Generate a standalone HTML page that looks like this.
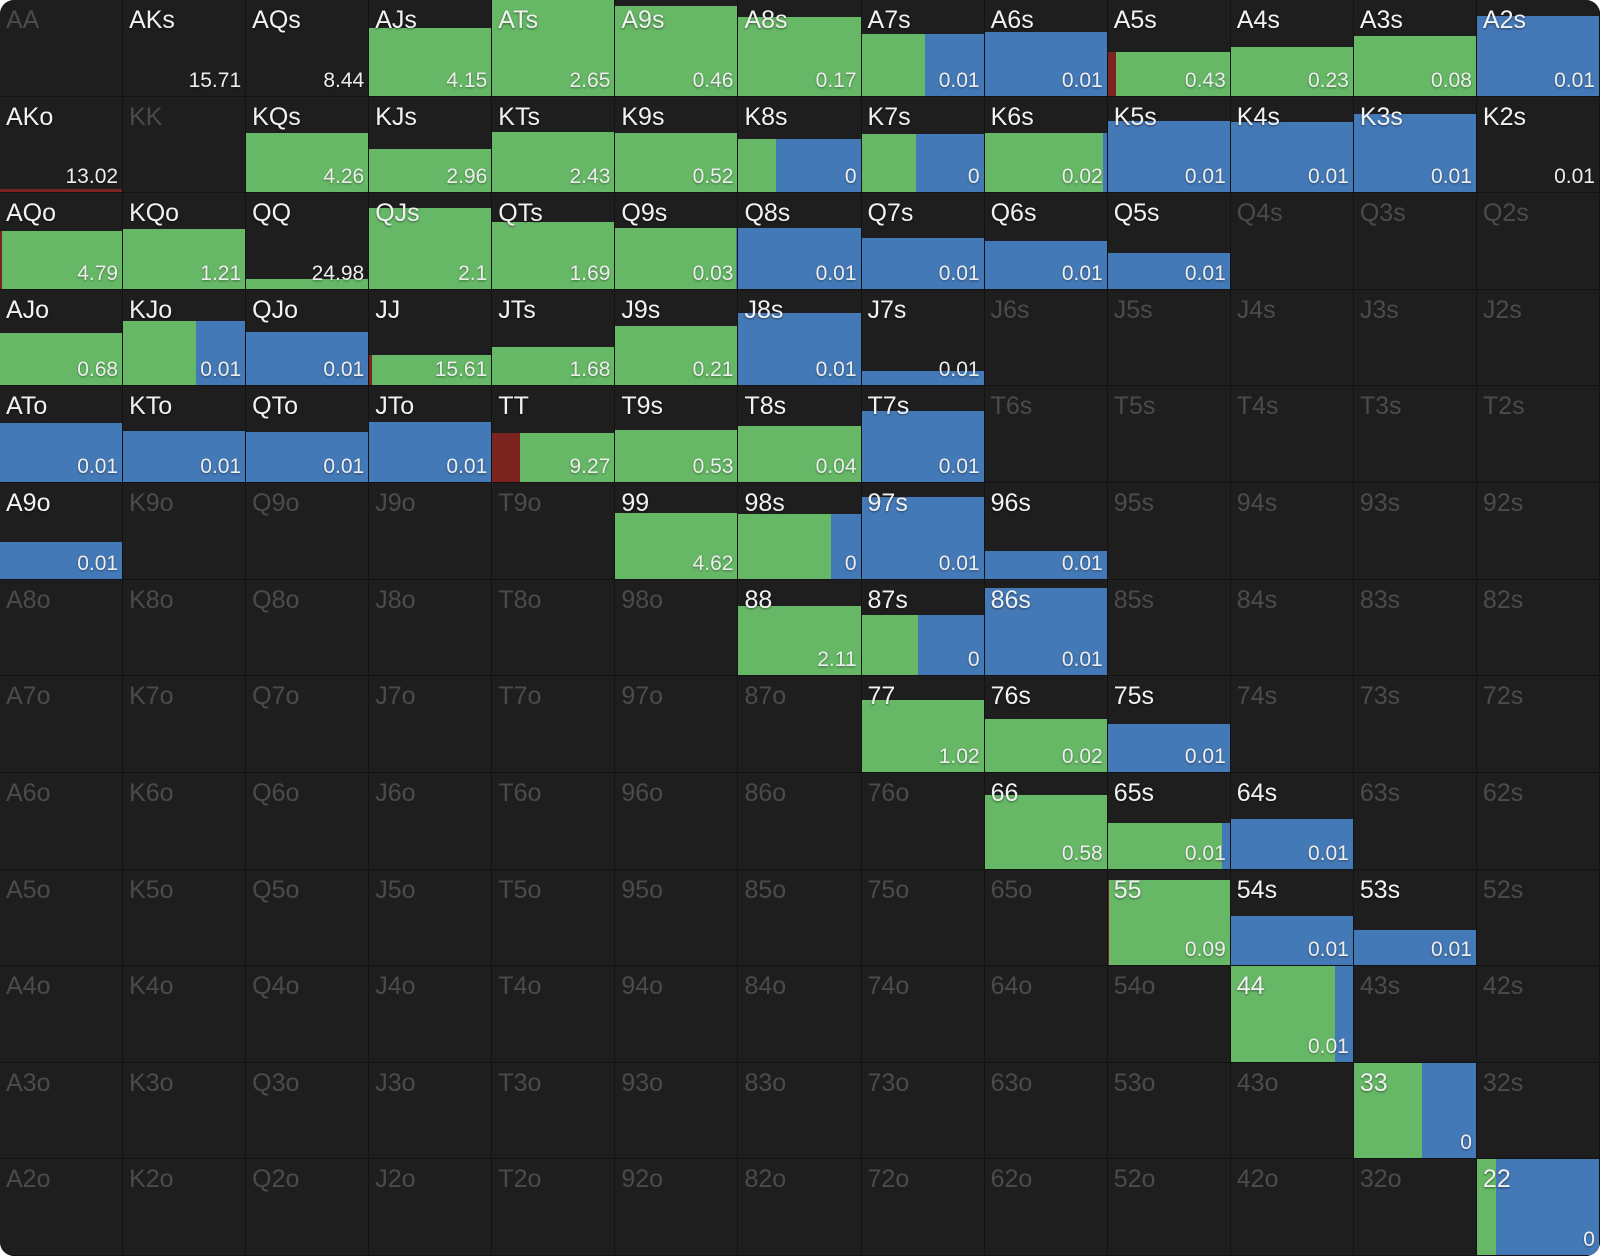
<!DOCTYPE html>
<html><head><meta charset="utf-8"><style>
body{margin:0;background:#fff;}
#g{width:1600px;height:1256px;display:grid;grid-template-columns:repeat(13,1fr);grid-template-rows:repeat(13,1fr);border-radius:14px;overflow:hidden;background:#1e1e1e;font-family:"Liberation Sans",sans-serif;}
.c{position:relative;border-right:1px solid #131313;border-bottom:1px solid #131313;overflow:hidden;background:#1e1e1e;}
.l{position:absolute;left:6px;top:6px;font-size:25px;color:#f2f2f2;z-index:2;text-shadow:0 1px 2px rgba(0,0,0,.5);}
.d{color:#4b4b4b;text-shadow:none;}
.v{position:absolute;right:4px;bottom:3px;font-size:21px;color:#eee;z-index:2;text-shadow:0 1px 2px rgba(0,0,0,.4);}
.f{position:absolute;left:0;right:0;bottom:0;display:flex;}
.r{background:#7b241f;}.g{background:#66b866;}.u{background:#4479b7;}
</style></head><body><div id="g">
<!-- row A -->
<div class="c"><span class="l d">AA</span></div>
<div class="c"><span class="l">AKs</span><span class="v">15.71</span></div>
<div class="c"><span class="l">AQs</span><span class="v">8.44</span></div>
<div class="c"><span class="l">AJs</span><div class="f" style="height:71%"><span class="g" style="flex:1"></span></div><span class="v">4.15</span></div>
<div class="c"><span class="l">ATs</span><div class="f" style="height:100%"><span class="g" style="flex:1"></span></div><span class="v">2.65</span></div>
<div class="c"><span class="l">A9s</span><div class="f" style="height:94%"><span class="g" style="flex:1"></span></div><span class="v">0.46</span></div>
<div class="c"><span class="l">A8s</span><div class="f" style="height:82%"><span class="g" style="flex:1"></span></div><span class="v">0.17</span></div>
<div class="c"><span class="l">A7s</span><div class="f" style="height:64%"><span class="g" style="flex:52"></span><span class="u" style="flex:48"></span></div><span class="v">0.01</span></div>
<div class="c"><span class="l">A6s</span><div class="f" style="height:67%"><span class="u" style="flex:1"></span></div><span class="v">0.01</span></div>
<div class="c"><span class="l">A5s</span><div class="f" style="height:46%"><span class="r" style="flex:7"></span><span class="g" style="flex:93"></span></div><span class="v">0.43</span></div>
<div class="c"><span class="l">A4s</span><div class="f" style="height:51%"><span class="g" style="flex:1"></span></div><span class="v">0.23</span></div>
<div class="c"><span class="l">A3s</span><div class="f" style="height:62%"><span class="g" style="flex:1"></span></div><span class="v">0.08</span></div>
<div class="c"><span class="l">A2s</span><div class="f" style="height:83%"><span class="u" style="flex:1"></span></div><span class="v">0.01</span></div>
<!-- row K -->
<div class="c"><span class="l">AKo</span><div class="f" style="height:3%"><span class="r" style="flex:1"></span></div><span class="v">13.02</span></div>
<div class="c"><span class="l d">KK</span></div>
<div class="c"><span class="l">KQs</span><div class="f" style="height:62%"><span class="g" style="flex:1"></span></div><span class="v">4.26</span></div>
<div class="c"><span class="l">KJs</span><div class="f" style="height:45%"><span class="g" style="flex:1"></span></div><span class="v">2.96</span></div>
<div class="c"><span class="l">KTs</span><div class="f" style="height:63%"><span class="g" style="flex:1"></span></div><span class="v">2.43</span></div>
<div class="c"><span class="l">K9s</span><div class="f" style="height:62%"><span class="g" style="flex:1"></span></div><span class="v">0.52</span></div>
<div class="c"><span class="l">K8s</span><div class="f" style="height:56%"><span class="g" style="flex:31"></span><span class="u" style="flex:69"></span></div><span class="v">0</span></div>
<div class="c"><span class="l">K7s</span><div class="f" style="height:61%"><span class="g" style="flex:45"></span><span class="u" style="flex:55"></span></div><span class="v">0</span></div>
<div class="c"><span class="l">K6s</span><div class="f" style="height:62%"><span class="g" style="flex:97"></span><span class="u" style="flex:3"></span></div><span class="v">0.02</span></div>
<div class="c"><span class="l">K5s</span><div class="f" style="height:74%"><span class="u" style="flex:1"></span></div><span class="v">0.01</span></div>
<div class="c"><span class="l">K4s</span><div class="f" style="height:73%"><span class="u" style="flex:1"></span></div><span class="v">0.01</span></div>
<div class="c"><span class="l">K3s</span><div class="f" style="height:82%"><span class="u" style="flex:1"></span></div><span class="v">0.01</span></div>
<div class="c"><span class="l">K2s</span><span class="v">0.01</span></div>
<!-- row Q -->
<div class="c"><span class="l">AQo</span><div class="f" style="height:61%"><span class="r" style="flex:2"></span><span class="g" style="flex:98"></span></div><span class="v">4.79</span></div>
<div class="c"><span class="l">KQo</span><div class="f" style="height:63%"><span class="g" style="flex:1"></span></div><span class="v">1.21</span></div>
<div class="c"><span class="l">QQ</span><div class="f" style="height:10%"><span class="g" style="flex:1"></span></div><span class="v">24.98</span></div>
<div class="c"><span class="l">QJs</span><div class="f" style="height:85%"><span class="g" style="flex:1"></span></div><span class="v">2.1</span></div>
<div class="c"><span class="l">QTs</span><div class="f" style="height:70%"><span class="g" style="flex:1"></span></div><span class="v">1.69</span></div>
<div class="c"><span class="l">Q9s</span><div class="f" style="height:64%"><span class="g" style="flex:99"></span><span class="u" style="flex:1"></span></div><span class="v">0.03</span></div>
<div class="c"><span class="l">Q8s</span><div class="f" style="height:64%"><span class="u" style="flex:1"></span></div><span class="v">0.01</span></div>
<div class="c"><span class="l">Q7s</span><div class="f" style="height:53%"><span class="u" style="flex:1"></span></div><span class="v">0.01</span></div>
<div class="c"><span class="l">Q6s</span><div class="f" style="height:50%"><span class="u" style="flex:1"></span></div><span class="v">0.01</span></div>
<div class="c"><span class="l">Q5s</span><div class="f" style="height:38%"><span class="u" style="flex:1"></span></div><span class="v">0.01</span></div>
<div class="c"><span class="l d">Q4s</span></div>
<div class="c"><span class="l d">Q3s</span></div>
<div class="c"><span class="l d">Q2s</span></div>
<!-- row J -->
<div class="c"><span class="l">AJo</span><div class="f" style="height:55%"><span class="g" style="flex:1"></span></div><span class="v">0.68</span></div>
<div class="c"><span class="l">KJo</span><div class="f" style="height:67%"><span class="g" style="flex:60"></span><span class="u" style="flex:40"></span></div><span class="v">0.01</span></div>
<div class="c"><span class="l">QJo</span><div class="f" style="height:56%"><span class="u" style="flex:1"></span></div><span class="v">0.01</span></div>
<div class="c"><span class="l">JJ</span><div class="f" style="height:32%"><span class="r" style="flex:2"></span><span class="g" style="flex:98"></span></div><span class="v">15.61</span></div>
<div class="c"><span class="l">JTs</span><div class="f" style="height:40%"><span class="g" style="flex:1"></span></div><span class="v">1.68</span></div>
<div class="c"><span class="l">J9s</span><div class="f" style="height:62%"><span class="g" style="flex:1"></span></div><span class="v">0.21</span></div>
<div class="c"><span class="l">J8s</span><div class="f" style="height:76%"><span class="u" style="flex:1"></span></div><span class="v">0.01</span></div>
<div class="c"><span class="l">J7s</span><div class="f" style="height:15%"><span class="u" style="flex:1"></span></div><span class="v">0.01</span></div>
<div class="c"><span class="l d">J6s</span></div>
<div class="c"><span class="l d">J5s</span></div>
<div class="c"><span class="l d">J4s</span></div>
<div class="c"><span class="l d">J3s</span></div>
<div class="c"><span class="l d">J2s</span></div>
<!-- row T -->
<div class="c"><span class="l">ATo</span><div class="f" style="height:62%"><span class="u" style="flex:1"></span></div><span class="v">0.01</span></div>
<div class="c"><span class="l">KTo</span><div class="f" style="height:53%"><span class="u" style="flex:1"></span></div><span class="v">0.01</span></div>
<div class="c"><span class="l">QTo</span><div class="f" style="height:52%"><span class="u" style="flex:1"></span></div><span class="v">0.01</span></div>
<div class="c"><span class="l">JTo</span><div class="f" style="height:63%"><span class="u" style="flex:1"></span></div><span class="v">0.01</span></div>
<div class="c"><span class="l">TT</span><div class="f" style="height:51%"><span class="r" style="flex:23"></span><span class="g" style="flex:77"></span></div><span class="v">9.27</span></div>
<div class="c"><span class="l">T9s</span><div class="f" style="height:54%"><span class="g" style="flex:1"></span></div><span class="v">0.53</span></div>
<div class="c"><span class="l">T8s</span><div class="f" style="height:59%"><span class="g" style="flex:1"></span></div><span class="v">0.04</span></div>
<div class="c"><span class="l">T7s</span><div class="f" style="height:74%"><span class="u" style="flex:1"></span></div><span class="v">0.01</span></div>
<div class="c"><span class="l d">T6s</span></div>
<div class="c"><span class="l d">T5s</span></div>
<div class="c"><span class="l d">T4s</span></div>
<div class="c"><span class="l d">T3s</span></div>
<div class="c"><span class="l d">T2s</span></div>
<!-- row 9 -->
<div class="c"><span class="l">A9o</span><div class="f" style="height:38%"><span class="u" style="flex:1"></span></div><span class="v">0.01</span></div>
<div class="c"><span class="l d">K9o</span></div>
<div class="c"><span class="l d">Q9o</span></div>
<div class="c"><span class="l d">J9o</span></div>
<div class="c"><span class="l d">T9o</span></div>
<div class="c"><span class="l">99</span><div class="f" style="height:69%"><span class="g" style="flex:1"></span></div><span class="v">4.62</span></div>
<div class="c"><span class="l">98s</span><div class="f" style="height:68%"><span class="g" style="flex:76"></span><span class="u" style="flex:24"></span></div><span class="v">0</span></div>
<div class="c"><span class="l">97s</span><div class="f" style="height:85%"><span class="u" style="flex:1"></span></div><span class="v">0.01</span></div>
<div class="c"><span class="l">96s</span><div class="f" style="height:29%"><span class="u" style="flex:1"></span></div><span class="v">0.01</span></div>
<div class="c"><span class="l d">95s</span></div>
<div class="c"><span class="l d">94s</span></div>
<div class="c"><span class="l d">93s</span></div>
<div class="c"><span class="l d">92s</span></div>
<!-- row 8 -->
<div class="c"><span class="l d">A8o</span></div>
<div class="c"><span class="l d">K8o</span></div>
<div class="c"><span class="l d">Q8o</span></div>
<div class="c"><span class="l d">J8o</span></div>
<div class="c"><span class="l d">T8o</span></div>
<div class="c"><span class="l d">98o</span></div>
<div class="c"><span class="l">88</span><div class="f" style="height:73%"><span class="g" style="flex:1"></span></div><span class="v">2.11</span></div>
<div class="c"><span class="l">87s</span><div class="f" style="height:63%"><span class="g" style="flex:46"></span><span class="u" style="flex:54"></span></div><span class="v">0</span></div>
<div class="c"><span class="l">86s</span><div class="f" style="height:91%"><span class="u" style="flex:1"></span></div><span class="v">0.01</span></div>
<div class="c"><span class="l d">85s</span></div>
<div class="c"><span class="l d">84s</span></div>
<div class="c"><span class="l d">83s</span></div>
<div class="c"><span class="l d">82s</span></div>
<!-- row 7 -->
<div class="c"><span class="l d">A7o</span></div>
<div class="c"><span class="l d">K7o</span></div>
<div class="c"><span class="l d">Q7o</span></div>
<div class="c"><span class="l d">J7o</span></div>
<div class="c"><span class="l d">T7o</span></div>
<div class="c"><span class="l d">97o</span></div>
<div class="c"><span class="l d">87o</span></div>
<div class="c"><span class="l">77</span><div class="f" style="height:75%"><span class="g" style="flex:1"></span></div><span class="v">1.02</span></div>
<div class="c"><span class="l">76s</span><div class="f" style="height:55%"><span class="g" style="flex:1"></span></div><span class="v">0.02</span></div>
<div class="c"><span class="l">75s</span><div class="f" style="height:50%"><span class="u" style="flex:1"></span></div><span class="v">0.01</span></div>
<div class="c"><span class="l d">74s</span></div>
<div class="c"><span class="l d">73s</span></div>
<div class="c"><span class="l d">72s</span></div>
<!-- row 6 -->
<div class="c"><span class="l d">A6o</span></div>
<div class="c"><span class="l d">K6o</span></div>
<div class="c"><span class="l d">Q6o</span></div>
<div class="c"><span class="l d">J6o</span></div>
<div class="c"><span class="l d">T6o</span></div>
<div class="c"><span class="l d">96o</span></div>
<div class="c"><span class="l d">86o</span></div>
<div class="c"><span class="l d">76o</span></div>
<div class="c"><span class="l">66</span><div class="f" style="height:77%"><span class="g" style="flex:1"></span></div><span class="v">0.58</span></div>
<div class="c"><span class="l">65s</span><div class="f" style="height:48%"><span class="g" style="flex:94"></span><span class="u" style="flex:6"></span></div><span class="v">0.01</span></div>
<div class="c"><span class="l">64s</span><div class="f" style="height:52%"><span class="u" style="flex:1"></span></div><span class="v">0.01</span></div>
<div class="c"><span class="l d">63s</span></div>
<div class="c"><span class="l d">62s</span></div>
<!-- row 5 -->
<div class="c"><span class="l d">A5o</span></div>
<div class="c"><span class="l d">K5o</span></div>
<div class="c"><span class="l d">Q5o</span></div>
<div class="c"><span class="l d">J5o</span></div>
<div class="c"><span class="l d">T5o</span></div>
<div class="c"><span class="l d">95o</span></div>
<div class="c"><span class="l d">85o</span></div>
<div class="c"><span class="l d">75o</span></div>
<div class="c"><span class="l d">65o</span></div>
<div class="c"><span class="l">55</span><div class="f" style="height:89%"><span class="r" style="flex:1"></span><span class="g" style="flex:99"></span></div><span class="v">0.09</span></div>
<div class="c"><span class="l">54s</span><div class="f" style="height:51%"><span class="u" style="flex:1"></span></div><span class="v">0.01</span></div>
<div class="c"><span class="l">53s</span><div class="f" style="height:37%"><span class="u" style="flex:1"></span></div><span class="v">0.01</span></div>
<div class="c"><span class="l d">52s</span></div>
<!-- row 4 -->
<div class="c"><span class="l d">A4o</span></div>
<div class="c"><span class="l d">K4o</span></div>
<div class="c"><span class="l d">Q4o</span></div>
<div class="c"><span class="l d">J4o</span></div>
<div class="c"><span class="l d">T4o</span></div>
<div class="c"><span class="l d">94o</span></div>
<div class="c"><span class="l d">84o</span></div>
<div class="c"><span class="l d">74o</span></div>
<div class="c"><span class="l d">64o</span></div>
<div class="c"><span class="l d">54o</span></div>
<div class="c"><span class="l">44</span><div class="f" style="height:100%"><span class="g" style="flex:85"></span><span class="u" style="flex:15"></span></div><span class="v">0.01</span></div>
<div class="c"><span class="l d">43s</span></div>
<div class="c"><span class="l d">42s</span></div>
<!-- row 3 -->
<div class="c"><span class="l d">A3o</span></div>
<div class="c"><span class="l d">K3o</span></div>
<div class="c"><span class="l d">Q3o</span></div>
<div class="c"><span class="l d">J3o</span></div>
<div class="c"><span class="l d">T3o</span></div>
<div class="c"><span class="l d">93o</span></div>
<div class="c"><span class="l d">83o</span></div>
<div class="c"><span class="l d">73o</span></div>
<div class="c"><span class="l d">63o</span></div>
<div class="c"><span class="l d">53o</span></div>
<div class="c"><span class="l d">43o</span></div>
<div class="c"><span class="l">33</span><div class="f" style="height:100%"><span class="g" style="flex:56"></span><span class="u" style="flex:44"></span></div><span class="v">0</span></div>
<div class="c"><span class="l d">32s</span></div>
<!-- row 2 -->
<div class="c"><span class="l d">A2o</span></div>
<div class="c"><span class="l d">K2o</span></div>
<div class="c"><span class="l d">Q2o</span></div>
<div class="c"><span class="l d">J2o</span></div>
<div class="c"><span class="l d">T2o</span></div>
<div class="c"><span class="l d">92o</span></div>
<div class="c"><span class="l d">82o</span></div>
<div class="c"><span class="l d">72o</span></div>
<div class="c"><span class="l d">62o</span></div>
<div class="c"><span class="l d">52o</span></div>
<div class="c"><span class="l d">42o</span></div>
<div class="c"><span class="l d">32o</span></div>
<div class="c"><span class="l">22</span><div class="f" style="height:100%"><span class="g" style="flex:16"></span><span class="u" style="flex:84"></span></div><span class="v">0</span></div>
</div></body></html>
